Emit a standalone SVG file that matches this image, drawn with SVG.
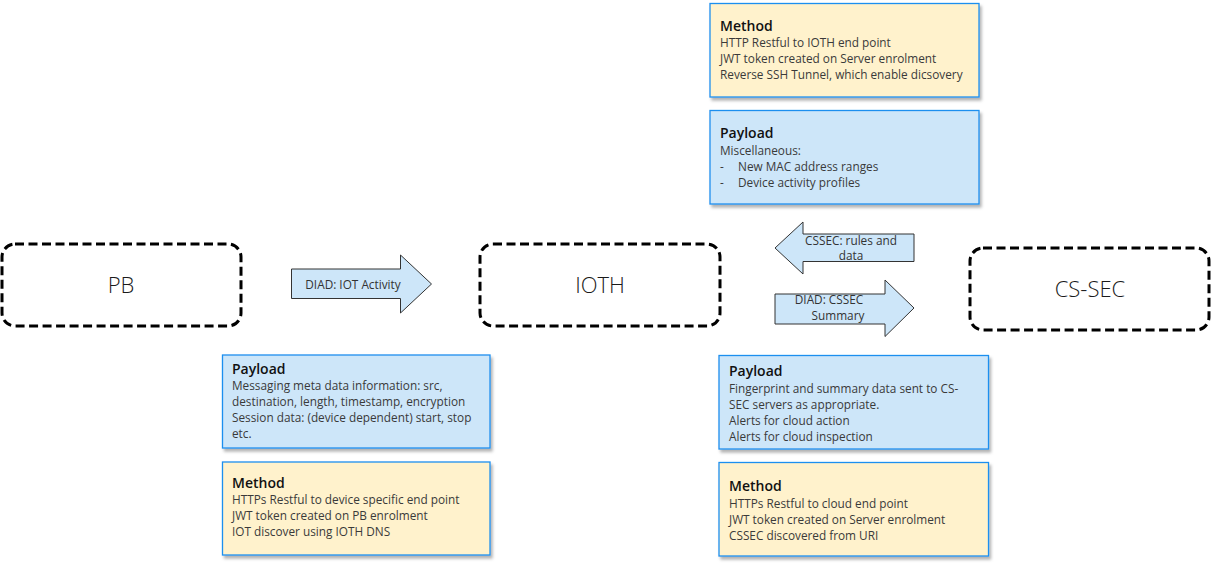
<svg xmlns="http://www.w3.org/2000/svg" width="1211" height="564" viewBox="0 0 1211 564">
<defs>
<filter id="sh" x="-5%" y="-5%" width="115%" height="120%">
<feDropShadow dx="2" dy="3" stdDeviation="1.5" flood-color="#000" flood-opacity="0.3"/>
</filter>
<style>
.node{fill:#fff;stroke:#000;stroke-width:3;stroke-dasharray:9 4.5;}
.nlabel{font-family:"Open Sans","Noto Sans",sans-serif;font-weight:300;font-size:22px;fill:#1a1a1a;text-anchor:middle;}
.blue{fill:#cde6f9;stroke:#1e8fef;stroke-width:1.3;filter:url(#sh);}
.yel{fill:#fff2cc;stroke:#1e8fef;stroke-width:1.3;filter:url(#sh);}
.title{font-family:"Open Sans","Noto Sans",sans-serif;font-weight:600;font-size:14px;fill:#111;}
.body{font-family:"Open Sans","Noto Sans",sans-serif;font-size:11.8px;fill:#3a3a3a;}
.arr{fill:#cde6f9;stroke:#333;stroke-width:1;}
.alabel{font-family:"Open Sans","Noto Sans",sans-serif;font-size:11.8px;fill:#333;text-anchor:middle;}
</style>
</defs>
<rect width="1211" height="564" fill="#fff"/>
<g id="PB"><rect class="node" x="2" y="244" width="239" height="82" rx="13"/><text class="nlabel" x="121" y="293">PB</text></g>
<g id="IOTH"><rect class="node" x="480" y="244" width="240" height="82" rx="13"/><text class="nlabel" x="600" y="293">IOTH</text></g>
<g id="CS-SEC"><rect class="node" x="970" y="248" width="239" height="82" rx="13"/><text class="nlabel" x="1090" y="297">CS-SEC</text></g>
<g id="connectors">
<g id="arrow-iot-activity"><polygon class="arr" points="291.5,269 400.5,269 400.5,255 431.5,284 400.5,313 400.5,298.5 291.5,298.5"/><text class="alabel" x="353" y="289">DIAD: IOT Activity</text></g>
<g id="arrow-rules"><polygon class="arr" points="914,234 803,234 803,222 775,248 803,274 803,261.5 914,261.5"/><text class="alabel" x="851" y="245">CSSEC: rules and</text><text class="alabel" x="851" y="260">data</text></g>
<g id="arrow-summary"><polygon class="arr" points="775,294 885,294 885,280 914,308 885,336.5 885,324 775,324"/><text class="alabel" x="829" y="304">DIAD: CSSEC</text><text class="alabel" x="838" y="320">Summary</text></g>
</g>
<g id="method-top"><rect class="yel" x="710" y="3.5" width="269" height="93.5"/>
<text class="title" x="720" y="31">Method</text>
<text class="body" x="720" y="47">HTTP Restful to IOTH end point</text>
<text class="body" x="720" y="63">JWT token created on Server enrolment</text>
<text class="body" x="720" y="79">Reverse SSH Tunnel, which enable dicsovery</text></g>
<g id="payload-top"><rect class="blue" x="710" y="110.5" width="269" height="93.5"/>
<text class="title" x="720" y="138">Payload</text>
<text class="body" x="720" y="155">Miscellaneous:</text>
<text class="body" x="720" y="171">-</text><text class="body" x="738" y="171">New MAC address  ranges</text>
<text class="body" x="720" y="187">-</text><text class="body" x="738" y="187">Device activity profiles</text></g>
<g id="payload-pb"><rect class="blue" x="222.5" y="355" width="267.5" height="93"/>
<text class="title" x="232" y="374">Payload</text>
<text class="body" x="232" y="390">Messaging  meta data  information: src,</text>
<text class="body" x="232" y="406">destination, length, timestamp, encryption</text>
<text class="body" x="232" y="422">Session data: (device dependent) start, stop</text>
<text class="body" x="232" y="438">etc.</text></g>
<g id="method-pb"><rect class="yel" x="222.5" y="462" width="267.5" height="93"/>
<text class="title" x="232" y="488">Method</text>
<text class="body" x="232" y="504">HTTPs Restful to device specific end point</text>
<text class="body" x="232" y="520">JWT token created on PB enrolment</text>
<text class="body" x="232" y="536">IOT discover using IOTH DNS</text></g>
<g id="payload-cs"><rect class="blue" x="719" y="355.5" width="269.5" height="93.5"/>
<text class="title" x="729" y="376">Payload</text>
<text class="body" x="729" y="393">Fingerprint and summary data sent to CS-</text>
<text class="body" x="729" y="409">SEC servers as appropriate.</text>
<text class="body" x="729" y="425">Alerts for cloud action</text>
<text class="body" x="729" y="441">Alerts for cloud inspection</text></g>
<g id="method-cs"><rect class="yel" x="719" y="462.5" width="269.5" height="93.5"/>
<text class="title" x="729" y="491">Method</text>
<text class="body" x="729" y="508">HTTPs Restful to cloud end point</text>
<text class="body" x="729" y="524">JWT token created on Server enrolment</text>
<text class="body" x="729" y="540">CSSEC discovered from URI</text></g>
</svg>
